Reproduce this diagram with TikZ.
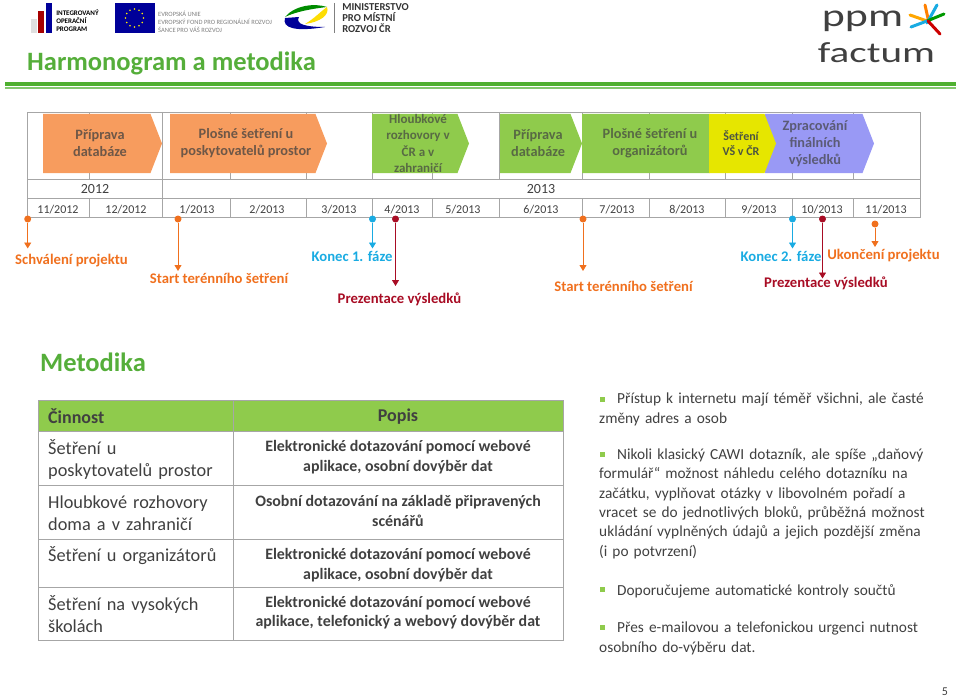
\documentclass[tikz,border=0pt]{standalone}
\usepackage{fontspec}
\usepackage{xcolor}
\setmainfont{Carlito}
\usetikzlibrary{calc, positioning, arrows.meta}
\definecolor{barorange}{HTML}{F79C5E}
\definecolor{bargreen}{HTML}{8FCB4C}
\definecolor{baryellow}{HTML}{E6E600}
\definecolor{barviolet}{HTML}{9999F5}
\definecolor{titlegreen}{HTML}{55AE3A}
\definecolor{ruleline}{HTML}{4FB030}
\definecolor{gridline}{HTML}{A6A6A6}
\definecolor{darktext}{HTML}{404040}
\definecolor{msorange}{HTML}{F0701E}
\definecolor{msblue}{HTML}{19ABE2}
\definecolor{msred}{HTML}{A80C24}
\newcommand{\phase}[9]{% name, x0, x1, color, textcolor, size, leading, text x, text
  \fill[#4] (#2,114) -- ({#3-11.5},114) -- (#3,143.5) -- ({#3-11.5},173) -- (#2,173) -- cycle;
  \node[phase text,text=#5,font=\fontsize{#6}{#7}\selectfont\bfseries] (#1) at (#8,143.5) {#9};}
\begin{document}
\begin{tikzpicture}[x=1pt,y=-1pt,
    phase text/.style={align=center,inner sep=0pt},
    month/.style={inner sep=0pt,font=\fontsize{12}{14}\selectfont,text=darktext},
    year/.style={inner sep=0pt,font=\fontsize{14}{16}\selectfont,text=darktext},
    grid/.style={draw=gridline,line width=0.9pt},
    milestone/.style={inner sep=0pt,font=\fontsize{14.7}{16}\selectfont\bfseries},
    pin/.style={-{Triangle[length=6pt,width=7pt]},line width=0.9pt},
    knob/.style={circle,inner sep=0pt,minimum size=7pt},
    cell/.style={draw=gridline,line width=1pt},
    head/.style={inner sep=0pt,font=\fontsize{18}{20}\selectfont\bfseries,text=darktext},
    acttext/.style={inner sep=0pt,align=left,text width=180pt,font=\fontsize{18.3}{22}\selectfont,text=darktext},
    desctext/.style={inner sep=0pt,align=center,font=\fontsize{15.9}{19.5}\selectfont\bfseries,text=darktext},
    bullet/.style={fill=bargreen,minimum size=5pt,inner sep=0pt},
    para/.style={inner sep=0pt,anchor=north west,align=left,text width=340pt,font=\fontsize{15.35}{19.4}\selectfont,text=darktext}]
  \useasboundingbox (0,0) rectangle (960,698);

  % logos
  \fill[gray!25] (31,19) rectangle (37,33);
  \fill[red!65!black] (38,11) rectangle (44,33);
  \fill[blue!60!black] (46,3) rectangle (52,33);
  \node[inner sep=0pt,align=left,font=\fontsize{7}{8}\selectfont\bfseries] (iop) at (77.5,21) {INTEGROVANÝ\\OPERAČNÍ\\PROGRAM};
  \node[fill=blue!60!black,minimum width=40pt,minimum height=30pt,inner sep=0pt] (euflag) at (134.5,18) {};
  \foreach \a in {0,30,...,330}
    \fill[yellow] ($(euflag)+(\a:9)$) circle (0.8);
  \node[inner sep=0pt,align=left,text=gray,font=\fontsize{6.5}{7.7}\selectfont] (eutext) at (215,22) {EVROPSKÁ UNIE\\EVROPSKÝ FOND PRO REGIONÁLNÍ ROZVOJ\\ŠANCE PRO VÁŠ ROZVOJ};
  \fill[green!55!black] (285,17) .. controls (295,5) and (315,3) .. (327,7) .. controls (310,9) and (295,12) .. (285,17) -- cycle;
  \fill[blue!60!black] (285,18) .. controls (282,28) and (295,32) .. (325,27) .. controls (305,27) and (295,24) .. (299,17) -- cycle;
  \fill[yellow!80!orange] (327,7) .. controls (330,15) and (320,22) .. (305,24) .. controls (315,18) and (320,12) .. (327,7) -- cycle;
  \draw[gray] (334.5,3) -- (334.5,33);
  \node[inner sep=0pt,align=left,font=\fontsize{10.6}{11}\selectfont\bfseries,text=black!80] (mmr) at (375.5,18) {MINISTERSTVO\\PRO MÍSTNÍ\\ROZVOJ ČR};
  \node[inner sep=0pt,anchor=base,text=darktext,font=\fontsize{32}{32}\selectfont] (ppm) at (862.5,27) {\scalebox{1.37}[1]{ppm}};
  \node[inner sep=0pt,anchor=base,text=darktext,font=\fontsize{29}{29}\selectfont] (factum) at (876.5,63) {\scalebox{1.42}[1]{factum}};
  \draw[line width=3pt,line cap=round,orange] (925,5) -- (929,23);
  \draw[line width=3pt,line cap=round,msblue] (937,5) -- (927,23);
  \draw[line width=3pt,line cap=round,orange!70!yellow] (910,15) -- (927,21);
  \draw[line width=3pt,line cap=round,green!60!black] (944,14) -- (927,21);
  \draw[line width=3pt,line cap=round,msblue] (911,27) -- (927,21);
  \draw[line width=3pt,line cap=round,red!80!black] (940,34) -- (928,21);

  % title
  \node[inner sep=0pt,anchor=west,text=titlegreen,font=\fontsize{26.5}{28}\selectfont\bfseries] (title) at (27,63) {Harmonogram a metodika};
  \fill[ruleline] (5,82) rectangle (956,86.5);
  \fill[ruleline!70!white] (5,87.5) rectangle (956,89);

  % timeline grid
  \draw[grid] (27.5,112) rectangle (920,217);
  \draw[grid] (27.5,179) -- (920,179);
  \draw[grid] (27.5,198) -- (920,198);
  \foreach \xa in {89,230,306,372,432,499,582,649,725,792,853}{
    \draw[grid] (\xa,112) -- (\xa,179);
    \draw[grid] (\xa,198) -- (\xa,217);
  }
  \draw[grid] (162,112) -- (162,217);

  % phases
  \phase{p1}{43}{162}{barorange}{darktext!75!barorange}{14.3}{17}{100}{Příprava\\databáze}
  \phase{p2}{170}{327}{barorange}{darktext!75!barorange}{14.3}{17}{246}{Plošné šetření  u\\poskytovatelů prostor}
  \phase{p3}{372}{469}{bargreen}{darktext!70!bargreen}{13}{16.5}{418}{Hloubkové\\rozhovory v\\ČR a v\\zahraničí}
  \phase{p4}{500}{582}{bargreen}{darktext!70!bargreen}{14.3}{17}{538}{Příprava\\databáze}
  \phase{p5}{582}{721}{bargreen}{darktext!70!bargreen}{14.3}{17}{650}{Plošné šetření  u\\organizátorů}
  \phase{p7}{765}{874}{barviolet}{darktext!70!barviolet}{14.3}{17}{815}{Zpracování\\finálních\\výsledků}
  \phase{p6}{709}{776}{baryellow}{darktext!85!bargreen}{12}{15}{741}{Šetření\\VŠ v ČR}

  % years and months
  \node[year] (y12) at (95,189) {2012};
  \node[year] (y13) at (541,189) {2013};
  \foreach \xa/\mlabel in {58/11\slash 2012,126/12\slash 2012,197/1\slash 2013,267/2\slash 2013,339/3\slash 2013,402/4\slash 2013,463/5\slash 2013,541/6\slash 2013,617/7\slash 2013,687/8\slash 2013,759/9\slash 2013,822/10\slash 2013,886/11\slash 2013}
    \node[month] at (\xa,209.5) {\mlabel};

  % milestones
  \node[milestone,text=msorange] (schvaleni) at (71.5,261) {Schválení projektu};
  \node[milestone,text=msorange] (start1) at (219,278) {Start terénního šetření};
  \node[milestone,text=msblue] (konec1) at (352,256) {Konec 1. fáze};
  \node[milestone,text=msred] (prez1) at (399.5,299.5) {Prezentace výsledků};
  \node[milestone,text=msorange] (start2) at (623.5,286) {Start terénního šetření};
  \node[milestone,text=msblue] (konec2) at (781,256) {Konec 2. fáze};
  \node[milestone,text=msorange] (ukonceni) at (883.5,256) {Ukončení projektu};
  \node[milestone,text=msred] (prez2) at (826,283.5) {Prezentace výsledků};

  \node[knob,fill=msorange] (k1) at (27.7,219) {};
  \node[knob,fill=msorange] (k2) at (178,219) {};
  \node[knob,fill=msblue] (k3) at (372.5,219) {};
  \node[knob,fill=msred] (k4) at (395.5,219) {};
  \node[knob,fill=msorange] (k5) at (583,219) {};
  \node[knob,fill=msblue] (k6) at (792.5,219) {};
  \node[knob,fill=msred] (k7) at (822.5,219) {};
  \node[knob,fill=msorange] (k8) at (875,224) {};
  \coordinate (e1) at (27.7,248.5);
  \coordinate (e2) at (178,271);
  \coordinate (e3) at (372.5,248.5);
  \coordinate (e4) at (395.5,286);
  \coordinate (e5) at (583,271);
  \coordinate (e6) at (792.5,248.5);
  \coordinate (e7) at (822.5,278.5);
  \coordinate (e8) at (875,247);
  \draw[pin,msorange] (k1) -- (e1);
  \draw[pin,msorange] (k2) -- (e2);
  \draw[pin,msblue] (k3) -- (e3);
  \draw[pin,msred] (k4) -- (e4);
  \draw[pin,msorange] (k5) -- (e5);
  \draw[pin,msblue] (k6) -- (e6);
  \draw[pin,msred] (k7) -- (e7);
  \draw[pin,msorange] (k8) -- (e8);

  % method
  \node[inner sep=0pt,anchor=west,text=titlegreen,font=\fontsize{26.5}{28}\selectfont\bfseries] (metodika) at (40,362) {Metodika};

  \fill[bargreen] (38.5,400.5) rectangle (563,431.5);
  \draw[cell] (38.5,400.5) rectangle (563,640.5);
  \draw[cell] (233,400.5) -- (233,640.5);
  \foreach \ya in {431.5,485.5,539.5,587.5}
    \draw[cell] (38.5,\ya) -- (563,\ya);

  \node[head,anchor=west] (cinnost) at (48,416) {Činnost};
  \node[head] (popis) at (398,417) {Popis};
  \node[acttext,anchor=west] (a1) at (48,459) {Šetření u\\poskytovatelů prostor};
  \node[acttext,anchor=west] (a2) at (48,513) {Hloubkové rozhovory\\doma a v zahraničí};
  \node[acttext,anchor=west] (a3) at (48,556) {Šetření u organizátorů};
  \node[acttext,anchor=west] (a4) at (48,614) {Šetření na vysokých\\školách};
  \node[desctext] (d1) at (398,457) {Elektronické dotazování pomocí webové\\aplikace, osobní dovýběr dat};
  \node[desctext] (d2) at (398,511) {Osobní dotazování na základě připravených\\scénářů};
  \node[desctext] (d3) at (398,565) {Elektronické dotazování pomocí webové\\aplikace, osobní dovýběr dat};
  \node[desctext] (d4) at (398,612.5) {Elektronické dotazování pomocí webové\\aplikace, telefonický a webový dovýběr dat};

  % notes
  \node[para] (n1) at (599,393) {\hspace*{18pt}Přístup k internetu mají téměř všichni, ale časté\\změny adres a osob};
  \node[para] (n2) at (599,448.5) {\hspace*{18pt}Nikoli klasický CAWI dotazník, ale spíše „daňový\\formulář“ možnost náhledu celého dotazníku na\\začátku, vyplňovat otázky v libovolném pořadí  a\\vracet se do jednotlivých bloků, průběžná možnost\\ukládání vyplněných údajů a jejich pozdější změna\\(i po potvrzení)};
  \node[para] (n3) at (599,584) {\hspace*{18pt}Doporučujeme automatické kontroly součtů};
  \node[para] (n4) at (599,622) {\hspace*{18pt}Přes e-mailovou a telefonickou urgenci nutnost\\osobního do-výběru dat.};
  \foreach \ya/\bname in {399/b1,454/b2,589/b3,627/b4}
    \node[bullet] (\bname) at (602.5,\ya) {};

  \node[inner sep=0pt,text=darktext,font=\fontsize{12}{14}\selectfont] (pageno) at (945,692) {5};
\end{tikzpicture}
\end{document}
